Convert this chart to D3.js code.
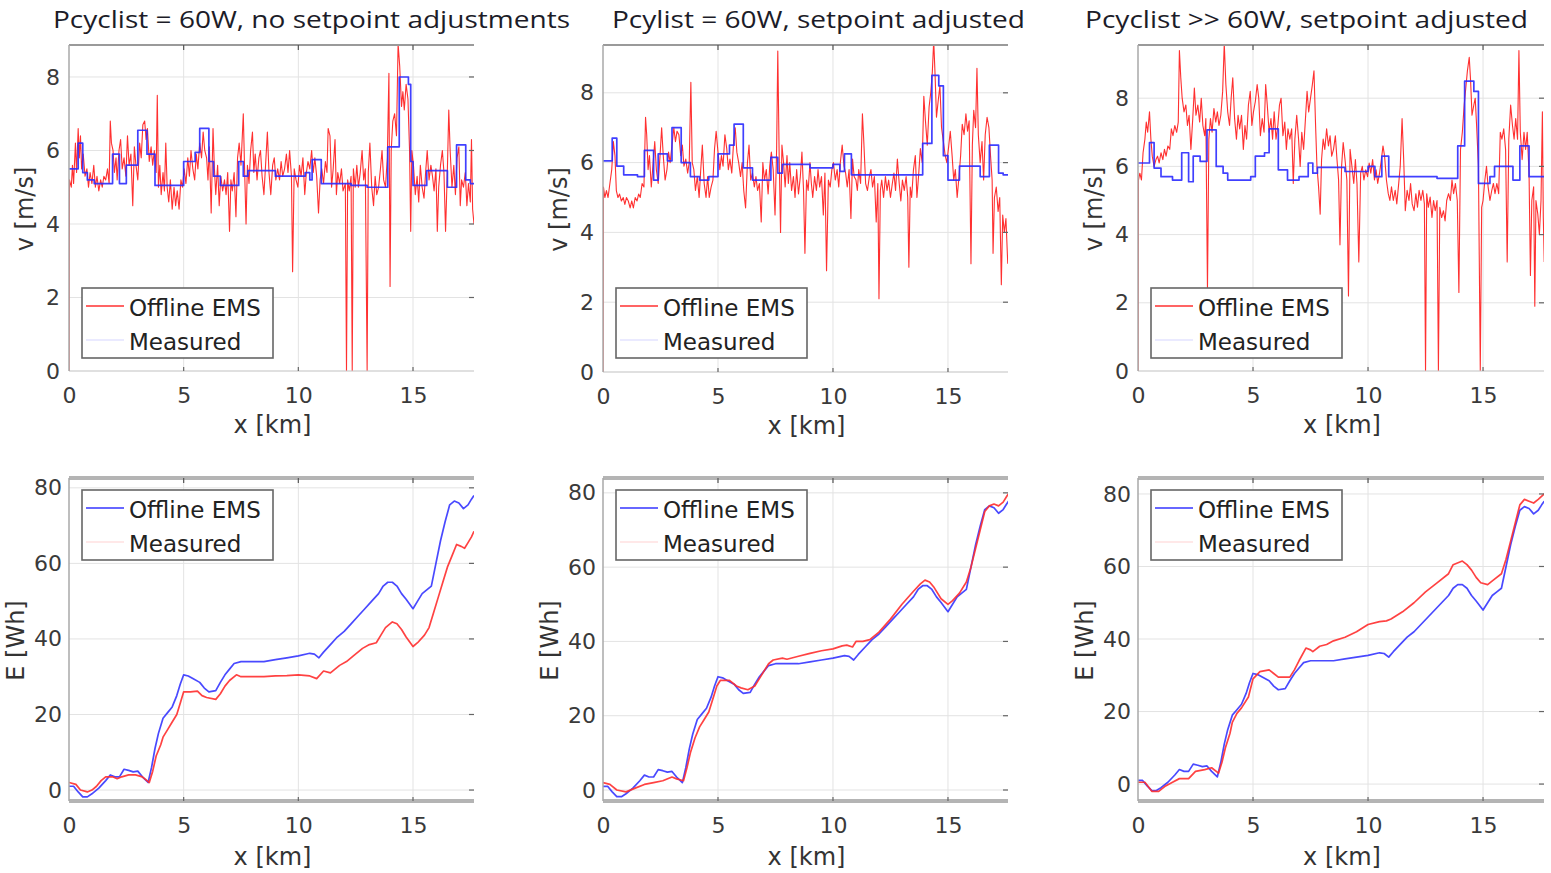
<!DOCTYPE html>
<html><head><meta charset="utf-8">
<script src="https://cdn.jsdelivr.net/npm/d3@7"></script>
<style>body{margin:0;background:#fff}svg{display:block}</style>
</head><body>
<svg id="c" width="1551" height="873"></svg>
<script>
// ---------- data ----------
const titles = ["Pcyclist = 60W, no setpoint adjustments", "Pcylist = 60W, setpoint adjusted", "Pcyclist >> 60W, setpoint adjusted"];
const legendNames = ["Offline EMS", "Measured"];
const xTicks = [0, 5, 10, 15];
const vTicks = [0, 2, 4, 6, 8];
const eTicks = [0, 20, 40, 60, 80];

// Measured speed (step setpoints) [km, m/s]
const vMeasured1 = [[0,5.5],[0.4,6.2],[0.6,5.4],[0.8,5.2],[1.1,5.1],[1.9,5.9],[2.2,5.1],[2.5,5.6],[3.0,6.55],[3.4,5.9],[3.75,5.05],[5.0,5.7],[5.5,5.95],[5.7,6.6],[6.1,5.7],[6.3,5.3],[6.6,5.05],[7.4,5.7],[7.6,5.3],[7.8,5.45],[9.0,5.3],[10.3,5.4],[10.5,5.2],[10.6,5.75],[11.0,5.1],[12.3,5.05],[13.0,5.0],[13.9,6.1],[14.4,8.0],[14.8,7.8],[14.9,5.7],[15.0,5.05],[15.6,5.45],[16.5,5.0],[16.9,6.15],[17.3,5.2],[17.5,5.1],[17.66,5.1]];
const vMeasured2 = [[0,6.05],[0.4,6.7],[0.6,5.9],[0.9,5.65],[1.5,5.6],[1.8,6.35],[2.2,5.5],[2.4,6.25],[2.8,6.05],[3.0,7.0],[3.4,6.0],[3.8,5.6],[4.2,5.5],[4.6,5.6],[5.0,6.25],[5.5,6.5],[5.7,7.1],[6.1,5.85],[6.5,5.5],[7.3,6.15],[7.6,5.7],[7.8,5.95],[9.0,5.85],[10.0,5.95],[10.3,5.75],[10.5,6.25],[10.8,5.65],[13.9,6.55],[14.3,8.5],[14.6,8.2],[14.8,6.2],[15.0,5.5],[15.5,5.9],[16.4,5.6],[16.8,6.5],[17.2,5.7],[17.4,5.65],[17.66,5.65]];
const vMeasured3 = [[0,6.1],[0.5,6.7],[0.7,5.95],[1.0,5.7],[1.5,5.6],[1.9,6.4],[2.2,5.55],[2.4,6.3],[2.7,6.15],[3.0,7.07],[3.4,6.0],[3.7,5.8],[3.9,5.6],[4.9,5.7],[5.1,6.3],[5.5,6.4],[5.7,7.1],[6.1,5.9],[6.5,5.6],[7.0,5.7],[7.4,6.1],[7.6,5.8],[7.8,5.97],[9.0,5.85],[10.0,6.0],[10.3,5.7],[10.6,6.3],[10.9,5.7],[13.0,5.65],[13.9,6.6],[14.2,8.5],[14.6,8.2],[14.8,5.5],[15.3,5.7],[15.5,6.0],[16.3,5.6],[16.6,6.6],[17.0,5.7],[17.66,5.7]];

// Offline EMS speed [km, m/s]
const vOffline1 = [[0,0],[0.02,5.2],[0.1,5.0],[0.15,5.6],[0.2,5.1],[0.28,6.2],[0.33,5.4],[0.4,6.6],[0.45,5.8],[0.5,6.4],[0.55,5.5],[0.62,5.9],[0.7,5.3],[0.78,5.5],[0.85,5.0],[0.92,5.4],[1.0,5.1],[1.08,5.6],[1.15,5.0],[1.22,5.3],[1.3,4.9],[1.38,5.2],[1.45,5.0],[1.52,5.3],[1.6,5.2],[1.68,5.5],[1.75,5.1],[1.8,6.8],[1.85,6.2],[1.92,6.0],[1.98,5.4],[2.05,5.8],[2.1,5.2],[2.18,6.0],[2.25,6.3],[2.32,5.5],[2.4,5.8],[2.48,5.3],[2.55,6.4],[2.62,5.6],[2.7,5.9],[2.78,4.5],[2.85,6.1],[2.92,5.6],[3.0,5.2],[3.08,6.2],[3.15,5.8],[3.22,6.7],[3.3,6.8],[3.36,6.3],[3.42,6.6],[3.5,5.7],[3.58,6.1],[3.65,5.6],[3.72,6.0],[3.8,5.4],[3.85,7.5],[3.9,5.0],[3.96,5.6],[4.02,4.8],[4.1,5.4],[4.16,4.9],[4.22,6.2],[4.28,5.0],[4.35,4.6],[4.42,5.2],[4.5,4.4],[4.58,5.0],[4.65,4.5],[4.72,4.9],[4.8,4.4],[4.88,5.2],[4.95,5.0],[5.02,5.5],[5.1,5.1],[5.18,5.8],[5.25,5.3],[5.32,6.0],[5.4,5.5],[5.48,5.2],[5.55,5.9],[5.62,5.5],[5.7,6.2],[5.78,5.8],[5.85,6.5],[5.92,6.0],[6.0,5.8],[6.06,5.2],[6.12,6.1],[6.2,4.3],[6.28,6.6],[6.34,5.5],[6.4,4.8],[6.48,5.6],[6.55,4.5],[6.62,5.3],[6.7,4.9],[6.78,5.2],[6.85,4.8],[6.92,5.4],[7.0,3.8],[7.06,5.2],[7.12,4.9],[7.2,5.4],[7.28,4.2],[7.35,5.8],[7.42,6.2],[7.5,5.6],[7.6,7.0],[7.66,5.4],[7.72,4.0],[7.78,5.6],[7.85,5.1],[7.92,6.0],[8.0,6.5],[8.06,5.4],[8.12,5.9],[8.2,5.2],[8.28,5.8],[8.35,6.0],[8.42,5.3],[8.5,4.8],[8.58,5.7],[8.65,6.5],[8.72,5.4],[8.8,4.8],[8.88,5.6],[8.95,5.8],[9.02,5.2],[9.1,5.5],[9.18,5.2],[9.25,5.7],[9.32,5.3],[9.4,5.5],[9.48,5.9],[9.55,5.4],[9.62,6.0],[9.7,5.3],[9.75,2.7],[9.82,5.5],[9.9,5.2],[9.98,5.0],[10.05,5.6],[10.12,5.3],[10.2,5.8],[10.28,4.8],[10.35,5.4],[10.42,5.7],[10.5,5.5],[10.58,6.0],[10.65,5.4],[10.72,5.8],[10.8,5.3],[10.88,4.3],[10.95,5.2],[11.02,5.5],[11.1,5.1],[11.18,5.7],[11.25,5.4],[11.3,6.6],[11.38,6.4],[11.45,5.0],[11.52,5.5],[11.6,6.3],[11.66,4.8],[11.72,5.4],[11.8,5.1],[11.88,5.5],[11.95,4.9],[12.05,5.1],[12.1,0],[12.15,5.2],[12.22,4.9],[12.3,5.3],[12.35,0],[12.4,5.5],[12.48,5.0],[12.55,5.6],[12.62,5.0],[12.7,5.4],[12.78,6.0],[12.85,5.2],[12.92,5.5],[13.0,0],[13.05,5.4],[13.12,6.2],[13.2,5.0],[13.28,4.5],[13.35,5.3],[13.42,4.8],[13.5,5.0],[13.58,5.5],[13.65,6.0],[13.72,5.2],[13.8,5.0],[13.88,5.8],[13.95,8.1],[14.0,2.3],[14.05,6.0],[14.12,6.8],[14.2,7.0],[14.28,6.4],[14.35,8.9],[14.42,8.3],[14.5,7.2],[14.56,7.6],[14.62,7.1],[14.7,7.8],[14.78,7.4],[14.85,6.0],[14.9,3.8],[14.95,6.0],[15.02,5.6],[15.1,4.8],[15.18,5.3],[15.25,4.6],[15.32,5.6],[15.4,5.0],[15.48,4.7],[15.55,5.4],[15.62,6.0],[15.7,5.2],[15.78,5.6],[15.85,5.3],[15.92,4.9],[16.0,5.5],[16.06,3.8],[16.12,5.0],[16.2,5.6],[16.28,6.0],[16.35,5.4],[16.42,3.8],[16.5,5.5],[16.56,7.1],[16.62,6.0],[16.7,5.0],[16.78,5.6],[16.85,4.8],[16.92,5.8],[17.0,6.1],[17.06,4.5],[17.12,5.2],[17.2,5.0],[17.28,5.4],[17.35,4.5],[17.42,5.1],[17.5,4.6],[17.55,6.3],[17.6,4.4],[17.66,4.0]];
const vOffline2 = [[0,0],[0.02,5.3],[0.08,5.0],[0.15,5.2],[0.22,5.0],[0.3,5.4],[0.38,5.8],[0.45,6.6],[0.52,6.2],[0.58,5.2],[0.65,5.0],[0.72,5.1],[0.8,4.9],[0.88,5.0],[0.95,4.8],[1.02,5.0],[1.1,4.9],[1.18,4.7],[1.25,4.9],[1.32,4.7],[1.4,5.0],[1.48,4.9],[1.55,5.1],[1.62,5.0],[1.7,5.4],[1.78,5.3],[1.85,7.3],[1.9,6.8],[1.96,5.8],[2.02,6.2],[2.1,5.3],[2.18,6.0],[2.25,6.6],[2.32,5.8],[2.4,5.4],[2.48,6.2],[2.55,7.0],[2.62,6.2],[2.7,5.5],[2.78,5.8],[2.85,6.3],[2.92,6.0],[3.0,6.5],[3.08,7.0],[3.15,6.6],[3.22,6.9],[3.3,6.8],[3.38,6.2],[3.45,6.5],[3.52,5.9],[3.6,6.1],[3.68,5.7],[3.75,6.0],[3.82,8.3],[3.88,6.0],[3.95,5.8],[4.02,5.2],[4.1,5.6],[4.18,5.0],[4.25,5.8],[4.32,6.5],[4.4,5.4],[4.48,5.0],[4.55,5.6],[4.62,5.0],[4.7,5.3],[4.78,5.5],[4.85,6.4],[4.92,6.9],[5.0,6.3],[5.08,5.8],[5.15,6.2],[5.22,5.9],[5.3,6.8],[5.38,6.4],[5.45,5.8],[5.52,6.1],[5.6,5.7],[5.68,6.6],[5.75,7.0],[5.82,6.3],[5.9,6.0],[5.98,5.6],[6.05,6.0],[6.12,5.2],[6.2,4.7],[6.28,6.0],[6.35,6.5],[6.42,5.5],[6.5,5.7],[6.58,5.3],[6.65,5.6],[6.72,5.2],[6.8,5.4],[6.88,4.3],[6.95,6.0],[7.02,5.5],[7.1,5.8],[7.18,5.1],[7.25,5.9],[7.32,6.3],[7.4,5.8],[7.48,4.5],[7.55,6.4],[7.6,9.2],[7.66,6.2],[7.72,4.0],[7.78,6.5],[7.85,6.0],[7.92,5.3],[8.0,6.2],[8.06,5.4],[8.12,6.0],[8.2,5.2],[8.28,5.6],[8.35,5.0],[8.42,5.8],[8.5,5.1],[8.58,5.6],[8.65,6.3],[8.72,5.2],[8.78,3.4],[8.85,5.5],[8.92,5.2],[9.0,6.0],[9.06,5.4],[9.12,5.0],[9.2,5.6],[9.28,5.2],[9.35,5.8],[9.42,5.3],[9.5,5.6],[9.58,4.5],[9.65,5.7],[9.72,2.9],[9.8,5.5],[9.88,5.3],[9.95,5.8],[10.02,6.0],[10.1,5.5],[10.18,5.8],[10.25,5.3],[10.32,6.0],[10.4,6.5],[10.48,5.9],[10.55,5.7],[10.62,5.3],[10.7,5.8],[10.78,4.4],[10.85,6.1],[10.92,5.6],[11.0,5.5],[11.06,5.2],[11.12,5.8],[11.2,5.4],[11.28,7.4],[11.34,6.6],[11.42,5.4],[11.5,5.2],[11.58,5.6],[11.65,5.8],[11.72,5.3],[11.8,5.6],[11.88,4.3],[11.95,5.4],[12.0,2.1],[12.06,5.2],[12.12,5.5],[12.2,5.0],[12.28,5.6],[12.35,5.2],[12.42,5.5],[12.5,5.0],[12.58,5.4],[12.65,5.7],[12.72,5.2],[12.8,6.1],[12.88,5.4],[12.95,4.9],[13.02,5.5],[13.1,5.2],[13.18,5.6],[13.25,5.0],[13.3,3.0],[13.36,5.3],[13.42,5.0],[13.5,5.8],[13.58,6.2],[13.65,5.0],[13.72,5.6],[13.8,6.4],[13.88,6.0],[13.95,7.9],[14.02,7.2],[14.1,6.5],[14.18,7.6],[14.25,8.0],[14.32,8.6],[14.38,9.5],[14.44,8.5],[14.5,7.3],[14.58,7.8],[14.65,8.2],[14.72,7.0],[14.8,6.6],[14.88,6.2],[14.95,6.0],[15.02,6.4],[15.1,6.9],[15.18,6.2],[15.25,5.5],[15.32,5.8],[15.4,5.0],[15.48,5.6],[15.55,6.2],[15.62,7.1],[15.7,6.8],[15.78,7.4],[15.85,6.9],[15.92,7.2],[16.0,3.1],[16.06,6.5],[16.12,7.5],[16.2,7.0],[16.26,8.7],[16.32,6.8],[16.4,6.0],[16.48,6.6],[16.55,5.5],[16.62,6.8],[16.7,7.3],[16.78,7.0],[16.85,6.2],[16.92,5.5],[16.96,3.4],[17.02,5.0],[17.1,5.3],[17.18,4.6],[17.25,5.0],[17.32,2.5],[17.38,4.5],[17.45,4.0],[17.52,4.4],[17.6,3.1]];
const vOffline3 = [[0,0],[0.02,5.6],[0.08,5.8],[0.15,5.6],[0.22,6.4],[0.3,6.8],[0.36,7.3],[0.42,7.0],[0.5,7.6],[0.56,6.8],[0.62,6.3],[0.7,6.0],[0.78,6.2],[0.85,6.3],[0.92,6.1],[1.0,6.4],[1.08,6.2],[1.15,6.5],[1.22,6.3],[1.3,6.6],[1.38,6.5],[1.45,7.1],[1.52,6.9],[1.6,7.2],[1.68,7.0],[1.75,7.3],[1.8,9.4],[1.86,8.6],[1.92,8.0],[2.0,7.6],[2.08,7.8],[2.15,7.2],[2.22,7.5],[2.3,6.5],[2.38,7.4],[2.45,8.3],[2.52,7.5],[2.6,7.8],[2.68,7.3],[2.75,8.0],[2.82,7.2],[2.9,6.9],[2.95,7.4],[3.02,2.4],[3.08,6.8],[3.15,7.4],[3.22,7.0],[3.3,7.7],[3.38,7.3],[3.45,7.6],[3.52,7.2],[3.6,7.5],[3.68,8.2],[3.75,9.6],[3.82,8.4],[3.9,7.6],[3.98,7.2],[4.05,8.0],[4.12,8.6],[4.2,7.4],[4.28,6.8],[4.35,7.5],[4.42,7.1],[4.5,7.5],[4.58,6.5],[4.65,7.2],[4.72,6.8],[4.8,7.8],[4.88,8.2],[4.95,7.2],[5.02,7.6],[5.1,7.9],[5.18,8.4],[5.25,8.0],[5.32,6.9],[5.4,7.4],[5.48,7.0],[5.55,8.4],[5.62,7.8],[5.7,7.0],[5.78,7.4],[5.85,6.8],[5.92,7.6],[6.0,6.8],[6.08,7.2],[6.15,7.8],[6.22,8.0],[6.3,6.9],[6.38,7.3],[6.45,6.5],[6.52,7.1],[6.6,6.8],[6.68,7.1],[6.75,5.5],[6.82,6.8],[6.9,7.5],[6.98,6.8],[7.05,6.0],[7.12,7.0],[7.2,6.5],[7.28,7.4],[7.35,8.2],[7.42,7.6],[7.5,8.0],[7.58,8.4],[7.65,8.8],[7.72,7.2],[7.78,6.0],[7.85,5.4],[7.92,4.6],[7.98,6.2],[8.05,6.8],[8.12,6.5],[8.2,7.1],[8.28,6.6],[8.35,6.9],[8.42,6.3],[8.5,6.5],[8.58,6.9],[8.65,6.2],[8.72,5.6],[8.78,3.7],[8.85,6.0],[8.92,6.7],[9.0,6.2],[9.08,5.6],[9.15,2.2],[9.22,6.5],[9.3,6.0],[9.38,5.5],[9.45,6.2],[9.52,5.5],[9.6,3.2],[9.68,5.8],[9.75,6.0],[9.82,5.6],[9.9,5.9],[9.98,5.7],[10.05,6.1],[10.12,5.8],[10.2,6.2],[10.28,5.6],[10.35,5.9],[10.42,5.5],[10.5,5.8],[10.58,6.2],[10.65,6.6],[10.72,6.3],[10.8,5.6],[10.88,5.2],[10.95,5.0],[11.02,5.4],[11.1,5.0],[11.18,5.3],[11.25,4.9],[11.32,5.4],[11.4,6.0],[11.48,7.4],[11.55,6.2],[11.62,4.7],[11.7,5.3],[11.78,5.0],[11.85,5.5],[11.92,4.9],[12.0,4.7],[12.08,5.2],[12.15,4.8],[12.22,5.3],[12.3,5.0],[12.38,5.3],[12.45,4.9],[12.5,0],[12.55,5.2],[12.62,4.8],[12.7,5.1],[12.78,4.5],[12.85,5.0],[12.92,4.7],[13.0,5.0],[13.06,0],[13.12,4.8],[13.2,4.5],[13.28,4.7],[13.35,4.4],[13.42,5.0],[13.5,5.2],[13.58,5.0],[13.65,5.6],[13.72,5.2],[13.8,5.5],[13.88,5.0],[13.95,2.3],[14.02,6.5],[14.1,7.0],[14.18,7.8],[14.25,8.3],[14.32,8.8],[14.4,9.2],[14.46,8.5],[14.52,7.5],[14.6,7.8],[14.66,8.0],[14.72,7.2],[14.8,6.0],[14.88,0],[14.94,4.8],[15.0,5.0],[15.08,5.6],[15.15,6.0],[15.22,5.4],[15.3,5.0],[15.38,5.3],[15.45,5.5],[15.52,5.2],[15.6,5.5],[15.68,5.2],[15.75,7.0],[15.82,6.8],[15.9,7.1],[15.98,6.5],[16.05,3.2],[16.12,6.8],[16.2,7.8],[16.28,7.2],[16.35,6.8],[16.42,7.4],[16.5,6.8],[16.56,9.4],[16.62,7.0],[16.7,6.2],[16.78,7.0],[16.85,6.5],[16.92,7.0],[17.0,5.8],[17.06,2.8],[17.12,5.0],[17.2,5.4],[17.25,1.9],[17.3,5.0],[17.38,4.6],[17.45,4.0],[17.52,5.0],[17.58,7.6],[17.62,4.5],[17.66,3.2]];

// Energy [km, Wh]
const eOffline = [[0,1],[0.2,1],[0.4,-0.5],[0.6,-1.8],[0.8,-1.8],[1.0,-1],[1.3,0.5],[1.6,2.5],[1.8,4],[2.0,3.5],[2.2,3.5],[2.4,5.5],[2.6,5.2],[2.8,4.8],[3.0,5],[3.2,3.5],[3.45,2],[3.6,6],[3.75,11],[3.9,15],[4.1,19],[4.3,20.5],[4.5,22],[4.7,25],[4.85,28],[5.0,30.5],[5.2,30.2],[5.4,29.5],[5.7,28.5],[5.9,27],[6.1,26],[6.4,26.3],[6.6,28.5],[6.8,30.5],[7.0,32],[7.2,33.5],[7.5,34],[8.0,34],[8.5,34],[9.0,34.5],[9.5,35],[10.0,35.5],[10.5,36.2],[10.7,36],[10.9,35],[11.1,36.5],[11.4,38.5],[11.7,40.5],[12.0,42],[12.3,44],[12.6,46],[12.9,48],[13.2,50],[13.5,52],[13.7,54],[13.9,55],[14.1,55],[14.3,54],[14.5,52],[14.7,50.5],[15.0,48],[15.2,50],[15.4,52],[15.6,53],[15.8,54],[16.0,60],[16.2,66],[16.4,71],[16.6,75.5],[16.8,76.5],[17.0,76],[17.2,74.5],[17.4,75.5],[17.55,77],[17.66,78]];
const eMeasured1 = [[0,2],[0.3,1.5],[0.5,0],[0.8,-0.5],[1.0,0],[1.2,1],[1.4,2.5],[1.6,3.5],[1.9,3.5],[2.1,3],[2.3,3.5],[2.6,4],[2.9,4],[3.2,3.5],[3.5,2],[3.65,5],[3.8,9],[4.0,12],[4.1,14],[4.3,16],[4.5,18],[4.7,20],[4.85,23],[5.0,26],[5.3,26],[5.6,26.2],[5.8,25],[6.0,24.5],[6.4,24],[6.6,25.5],[6.8,27.5],[7.0,29],[7.3,30.5],[7.5,30],[8.0,30],[8.5,30],[9.0,30.2],[9.5,30.3],[10.0,30.5],[10.5,30.2],[10.8,29.5],[11.1,31.5],[11.4,31],[11.6,32],[11.8,33],[12.1,34],[12.4,35.5],[12.8,37.5],[13.1,38.5],[13.4,39],[13.6,41],[13.8,43],[14.1,44.5],[14.3,44],[14.5,42.5],[14.7,40.5],[15.0,38],[15.2,39],[15.5,41],[15.7,43],[15.9,47],[16.1,51],[16.3,55],[16.5,59],[16.7,62],[16.9,65],[17.1,64.5],[17.25,64],[17.4,65.5],[17.55,67],[17.66,68.5]];
const eMeasured2 = [[0,2],[0.3,1.5],[0.6,0],[1.0,-0.5],[1.4,0.5],[1.8,1.5],[2.2,2],[2.6,2.5],[3.0,3.5],[3.2,3],[3.5,2.5],[3.65,6],[3.8,10],[4.0,14],[4.2,17],[4.4,19],[4.6,21],[4.8,25],[4.95,28],[5.1,29.5],[5.5,29.5],[5.8,28],[6.0,27.5],[6.3,27],[6.6,28],[6.8,30],[7.0,32],[7.2,34],[7.4,35],[7.8,35.5],[8.0,35.2],[8.5,36],[9.0,36.8],[9.5,37.5],[10.0,38],[10.4,38.8],[10.6,39],[10.85,38.5],[11.0,40],[11.3,40],[11.6,40.5],[12.0,42.5],[12.5,46],[13.0,50],[13.5,53.5],[13.8,55.5],[14.0,56.5],[14.2,56],[14.4,54.5],[14.7,51.5],[15.0,50],[15.2,51],[15.5,53],[15.8,56],[16.0,60],[16.2,65],[16.4,70],[16.6,75],[16.8,76.5],[17.0,77],[17.2,76.5],[17.4,77.5],[17.55,79],[17.66,80]];
const eMeasured3 = [[0,0.5],[0.3,0.5],[0.6,-2],[0.9,-2],[1.2,-0.5],[1.5,0.5],[1.8,1.5],[2.0,1.5],[2.2,1.5],[2.5,3.5],[2.9,4],[3.2,4.5],[3.5,3],[3.65,6],[3.8,10],[4.0,14],[4.1,17],[4.3,19.5],[4.5,21],[4.8,24],[5.0,29],[5.3,31],[5.7,31.5],[5.9,30.5],[6.1,29.5],[6.6,29.5],[6.8,31.5],[7.0,34],[7.3,37.5],[7.5,37],[7.6,36.5],[7.9,38],[8.2,38.5],[8.5,39.5],[9.0,40.5],[9.5,42],[10.0,44],[10.5,44.8],[10.8,45],[11.0,45.5],[11.5,47.5],[12.0,50],[12.5,53],[13.0,55.5],[13.5,58],[13.7,60.5],[14.1,61.5],[14.3,60.5],[14.5,59],[14.7,57],[14.9,55.5],[15.2,55],[15.5,56.5],[15.8,58],[16.0,62],[16.2,67],[16.4,72],[16.6,77],[16.8,78.5],[17.0,78],[17.2,77.5],[17.4,78.5],[17.66,80]];

const vOfflineAll = [vOffline1, vOffline2, vOffline3];
const vMeasuredAll = [vMeasured1, vMeasured2, vMeasured3];
const eMeasuredAll = [eMeasured1, eMeasured2, eMeasured3];

// ---------- layout ----------
const topLayout = [
  {l:69, r:474, t:45, b:371, xmax:17.66, ymin:0, ymax:8.87},
  {l:603, r:1008, t:45, b:372, xmax:17.61, ymin:0, ymax:9.37},
  {l:1138, r:1544, t:45, b:371, xmax:17.65, ymin:0, ymax:9.56}
];
const botLayout = [
  {l:69, r:474, t:478, b:801, xmax:17.66, ymin:-2.9, ymax:82.6},
  {l:603, r:1008, t:478, b:801, xmax:17.61, ymin:-2.96, ymax:84.0},
  {l:1138, r:1544, t:478, b:801, xmax:17.65, ymin:-4.67, ymax:84.4}
];
const titleX = [53, 612, 1085];
const titleW = [517, 413, 443];

const svg = d3.select("#c");
const FONT = "DejaVu Sans, Liberation Sans, sans-serif";

function panel(L, idx, kind, yTicks, series, legendColors, yLabel) {
  const x = d3.scaleLinear().domain([0, L.xmax]).range([L.l, L.r]);
  const y = d3.scaleLinear().domain([L.ymin, L.ymax]).range([L.b, L.t]);
  const g = svg.append("g");
  const cid = "clip-" + kind + idx;
  svg.append("clipPath").attr("id", cid).append("rect")
    .attr("x", L.l).attr("y", L.t).attr("width", L.r - L.l).attr("height", L.b - L.t);

  // grid
  g.append("g").selectAll("line").data(xTicks.filter(d => d > 0)).join("line")
    .attr("x1", d => x(d)).attr("x2", d => x(d)).attr("y1", L.t).attr("y2", L.b)
    .attr("stroke", "#e3e3e3").attr("stroke-width", 1);
  g.append("g").selectAll("line").data(yTicks).join("line")
    .attr("x1", L.l).attr("x2", L.r).attr("y1", d => y(d)).attr("y2", d => y(d))
    .attr("stroke", "#e3e3e3").attr("stroke-width", 1);

  // axes via d3
  const xAxis = d3.axisBottom(x).tickValues(xTicks).tickSize(0).tickPadding(16).tickFormat(d3.format("d"));
  const yAxis = d3.axisLeft(y).tickValues(yTicks).tickSize(0).tickPadding(kind === "top" ? 9 : 7).tickFormat(d3.format("d"));
  const gx = g.append("g").attr("transform", `translate(0,${L.b})`).call(xAxis);
  const gy = g.append("g").attr("transform", `translate(${L.l},0)`).call(yAxis);
  [gx, gy].forEach(a => {
    a.select(".domain").remove();
    a.selectAll("text").attr("font-family", FONT).attr("font-size", 22).attr("fill", "#3a3a3a");
  });
  gx.selectAll("text").attr("dy", "0.72em");

  // series lines
  const line = d3.line().x(d => x(d[0])).y(d => y(d[1]));
  const lg = g.append("g").attr("clip-path", `url(#${cid})`);
  series.forEach(s => {
    lg.append("path")
      .attr("d", s.step ? line.curve(d3.curveStepAfter)(s.data) : line.curve(d3.curveLinear)(s.data))
      .attr("fill", "none").attr("stroke", s.color).attr("stroke-width", s.w)
      .attr("stroke-opacity", s.op).attr("stroke-linejoin", "round");
  });

  // frame
  if (kind === "top") {
    g.append("line").attr("x1", L.l).attr("x2", L.r).attr("y1", L.t).attr("y2", L.t).attr("stroke", "#9a9a9a").attr("stroke-width", 2);
    g.append("line").attr("x1", L.l).attr("x2", L.r).attr("y1", L.b).attr("y2", L.b).attr("stroke", "#cfcfcf").attr("stroke-width", 1);
  } else {
    g.append("line").attr("x1", L.l).attr("x2", L.r).attr("y1", L.t).attr("y2", L.t).attr("stroke", "#b4b4b4").attr("stroke-width", 4);
    g.append("line").attr("x1", L.l).attr("x2", L.r).attr("y1", L.b).attr("y2", L.b).attr("stroke", "#b4b4b4").attr("stroke-width", 4);
  }
  g.append("line").attr("x1", L.l).attr("x2", L.l).attr("y1", L.t).attr("y2", L.b).attr("stroke", "#a8a8a8").attr("stroke-width", 1.5);

  // small ticks on top, bottom and right
  g.append("g").selectAll("line").data(xTicks.filter(d => d > 0)).join("line")
    .attr("x1", d => x(d)).attr("x2", d => x(d)).attr("y1", L.t).attr("y2", L.t + 5)
    .attr("stroke", "#555").attr("stroke-width", 1.2);
  g.append("g").selectAll("line").data(xTicks.filter(d => d > 0)).join("line")
    .attr("x1", d => x(d)).attr("x2", d => x(d)).attr("y1", L.b).attr("y2", L.b - 4)
    .attr("stroke", "#666").attr("stroke-width", 1.2);
  g.append("g").selectAll("line").data(yTicks.filter(d => y(d) > L.t + 3 && y(d) < L.b - 3)).join("line")
    .attr("x1", L.r - 5).attr("x2", L.r).attr("y1", d => y(d)).attr("y2", d => y(d))
    .attr("stroke", "#666").attr("stroke-width", 1.2);

  // axis labels
  g.append("text").attr("x", (L.l + L.r) / 2 + 1).attr("y", L.b + (kind === "top" ? 62 : 64))
    .attr("text-anchor", "middle").attr("font-family", FONT).attr("font-size", 24).attr("fill", "#333").text("x [km]");
  const yl = kind === "top" ? L.l - 36 : L.l - 45;
  g.append("text").attr("transform", `translate(${yl},${(L.t + L.b) / 2 + 1}) rotate(-90)`)
    .attr("text-anchor", "middle").attr("font-family", FONT).attr("font-size", 24).attr("fill", "#333").text(yLabel);

  // legend
  const bx = L.l + 13, by = kind === "top" ? 288 : 490;
  const lgd = g.append("g");
  lgd.append("rect").attr("x", bx).attr("y", by).attr("width", 191).attr("height", 70)
    .attr("fill", "#fff").attr("stroke", "#666").attr("stroke-width", 1.6);
  legendNames.forEach((n, i) => {
    const yy = by + 18 + i * 34;
    lgd.append("line").attr("x1", bx + 4).attr("x2", bx + 42).attr("y1", yy).attr("y2", yy)
      .attr("stroke", legendColors[i]).attr("stroke-width", i === 0 ? 1.6 : 1.2);
    lgd.append("text").attr("x", bx + 47).attr("y", yy + 10).attr("font-family", FONT)
      .attr("font-size", 23).attr("fill", "#222").text(n);
  });
}

for (let i = 0; i < 3; i++) {
  panel(topLayout[i], i, "top", vTicks, [
    {data: vOfflineAll[i], color: "#ff1a1a", w: 1.1, op: 0.9, step: false},
    {data: vMeasuredAll[i], color: "#2b2bff", w: 1.7, op: 0.9, step: true}
  ], ["#ff3030", "#d6d6ff"], "v [m/s]");
  panel(botLayout[i], i, "bot", eTicks, [
    {data: eOffline, color: "#3535ff", w: 1.7, op: 0.9, step: false},
    {data: eMeasuredAll[i], color: "#ff2d2d", w: 1.7, op: 0.9, step: false}
  ], ["#3535ff", "#ffd2d2"], "E [Wh]");

  svg.append("text").attr("x", titleX[i]).attr("y", 28)
    .attr("font-family", "Open Sans, Noto Sans, sans-serif").attr("font-size", 24)
    .attr("fill", "#1c1c28").attr("textLength", titleW[i]).attr("lengthAdjust", "spacingAndGlyphs")
    .text(titles[i]);
}
</script>
</body></html>
